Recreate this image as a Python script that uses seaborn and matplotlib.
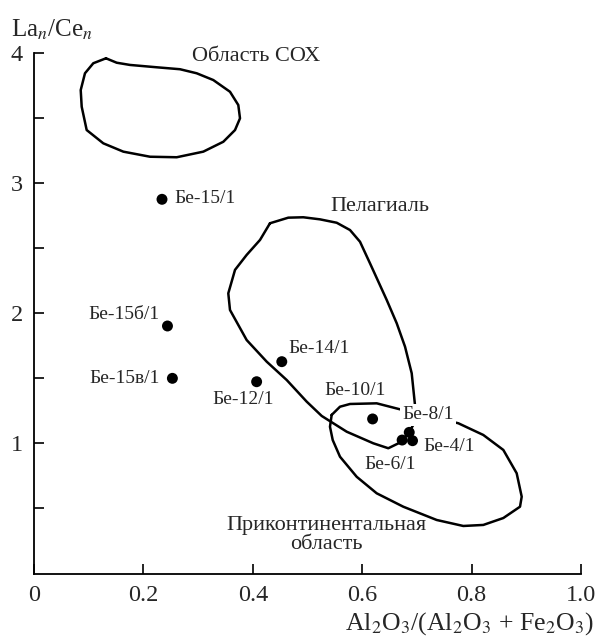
#!/usr/bin/env python3

# import libraries
import numpy as np
import matplotlib
matplotlib.use('Agg')
import matplotlib.pyplot as plt
import pandas as pd
import seaborn as sns

# samples: Al2O3/(Al2O3+Fe2O3) vs La_n/Ce_n
samples = ['Бе-15/1', 'Бе-15б/1', 'Бе-15в/1', 'Бе-12/1', 'Бе-14/1',
           'Бе-10/1', 'Бе-8/1', 'Бе-6/1', 'Бе-4/1']
al_ratio = [0.234, 0.244, 0.253, 0.407, 0.453, 0.619, 0.686, 0.673, 0.692]
la_ce = [2.874, 1.901, 1.499, 1.473, 1.627, 1.187, 1.084, 1.025, 1.020]

# label positions (x, y) for each sample, alignment
label_x = [0.2565, 0.1642, 0.1664, 0.3826, 0.5213, 0.5878, 0.7203, 0.6512, 0.7590]
label_y = [2.877, 1.993, 1.494, 1.333, 1.730, 1.402, 1.218, 0.837, 0.974]
label_ha = ['left', 'center', 'center', 'center', 'center', 'center', 'center', 'center', 'center']

# region outlines
mor_x = [0.1316, 0.1512, 0.1755, 0.2243, 0.2669, 0.2974, 0.3278, 0.3583, 0.3735, 0.3766,
         0.3675, 0.3461, 0.3095, 0.2609, 0.2121, 0.1633, 0.1267, 0.0963, 0.0872, 0.0854,
         0.0932, 0.1084]
mor_y = [3.957, 3.923, 3.906, 3.888, 3.873, 3.842, 3.790, 3.700, 3.598, 3.496,
         3.406, 3.316, 3.240, 3.197, 3.201, 3.240, 3.304, 3.406, 3.585, 3.713,
         3.842, 3.919]

pel_x = [0.4314, 0.4649, 0.4923, 0.5229, 0.5534, 0.5777, 0.5960, 0.6143, 0.6448, 0.6631,
         0.6783, 0.6905, 0.6965, 0.6934, 0.6861, 0.6722, 0.6477, 0.6203, 0.5717, 0.5260,
         0.4985, 0.4620, 0.4254, 0.3888, 0.3583, 0.3552, 0.3675, 0.3888, 0.4132]
pel_y = [2.690, 2.733, 2.736, 2.720, 2.694, 2.638, 2.548, 2.382, 2.101, 1.922,
         1.742, 1.538, 1.294, 1.141, 1.089, 1.012, 0.962, 1.000, 1.089, 1.210,
         1.320, 1.486, 1.627, 1.793, 2.024, 2.152, 2.332, 2.447, 2.562]

cont_x = [0.5442, 0.5594, 0.5777, 0.6265, 0.6691, 0.7757, 0.8214, 0.8580, 0.8824, 0.8916,
          0.8885, 0.8580, 0.8214, 0.7848, 0.7362, 0.6751, 0.6265, 0.5899, 0.5594, 0.5461,
          0.5411]
cont_y = [1.218, 1.281, 1.302, 1.307, 1.261, 1.154, 1.064, 0.949, 0.770, 0.590,
          0.513, 0.426, 0.373, 0.365, 0.411, 0.513, 0.616, 0.743, 0.897, 1.025,
          1.127]

x_ticks = [0, 0.2, 0.4, 0.6, 0.8, 1.0]
x_labels = ['0', '0.2', '0.4', '0.6', '0.8', '1.0']
y_ticks = [0.5, 1, 1.5, 2, 2.5, 3, 3.5, 4]
y_labels = ['', '1', '', '2', '', '3', '', '4']

# style
sns.set_theme(style='ticks')
plt.rcParams['font.family'] = ['Liberation Serif', 'DejaVu Serif']
plt.rcParams['mathtext.fontset'] = 'stix'

fig = plt.figure(figsize=(5.99, 6.39), dpi=100)
ax = fig.add_axes([34 / 599, 1 - 573.5 / 639, 547 / 599, 520.8 / 639])

# contours, closed
for cx, cy in [(mor_x, mor_y), (pel_x, pel_y), (cont_x, cont_y)]:
    df = pd.DataFrame({'x': cx + cx[:1], 'y': cy + cy[:1], 'o': np.arange(len(cx) + 1)})
    sns.lineplot(data=df, x='x', y='y', sort=False, estimator=None, color='black',
                 linewidth=1.8, ax=ax, zorder=1)

pts = pd.DataFrame({'x': al_ratio, 'y': la_ce, 'name': samples})
sns.scatterplot(data=pts, x='x', y='y', color='black', s=62, edgecolor='none',
                ax=ax, zorder=3)

for name, lx, ly, ha in zip(samples, label_x, label_y, label_ha):
    kw = {}
    if name == 'Бе-8/1':
        kw['bbox'] = dict(boxstyle='square,pad=0.12', facecolor='white', edgecolor='none')
    ax.text(lx, ly, name, fontsize=14, ha=ha, va='center', zorder=4, **kw)

# region names
ax.text(0.4068, 3.969, 'Область СОХ', fontsize=16, ha='center', va='center')
ax.text(0.6316, 2.815, 'Пелагиаль', fontsize=16, ha='center', va='center')
ax.text(0.535, 0.296, 'Приконтинентальная\nобласть', fontsize=16, ha='center',
        va='center', linespacing=1.05)

ax.set_xlim(0, 1.0)
ax.set_ylim(0, 4)
ax.set_xticks(x_ticks)
ax.set_xticklabels(x_labels)
ax.set_yticks(y_ticks)
ax.set_yticklabels(y_labels)
ax.tick_params(direction='in', length=7, width=1.2, labelsize=17.5, color='black',
               pad=8)
ax.set_xlabel('')
ax.set_ylabel('')
sns.despine(ax=ax)
for s in ['left', 'bottom']:
    ax.spines[s].set_linewidth(1.3)
    ax.spines[s].set_color('black')

# axis titles
fig.text(11 / 599, 1 - 30 / 639, r'La$_{n}$/Ce$_{n}$', fontsize=18, ha='left', va='center')
fig.text(594 / 599, 1 - 624 / 639, r'Al$_2$O$_3$/(Al$_2$O$_3$ + Fe$_2$O$_3$)',
         fontsize=18.5, ha='right', va='center')

fig.savefig('out.png', dpi=100)
